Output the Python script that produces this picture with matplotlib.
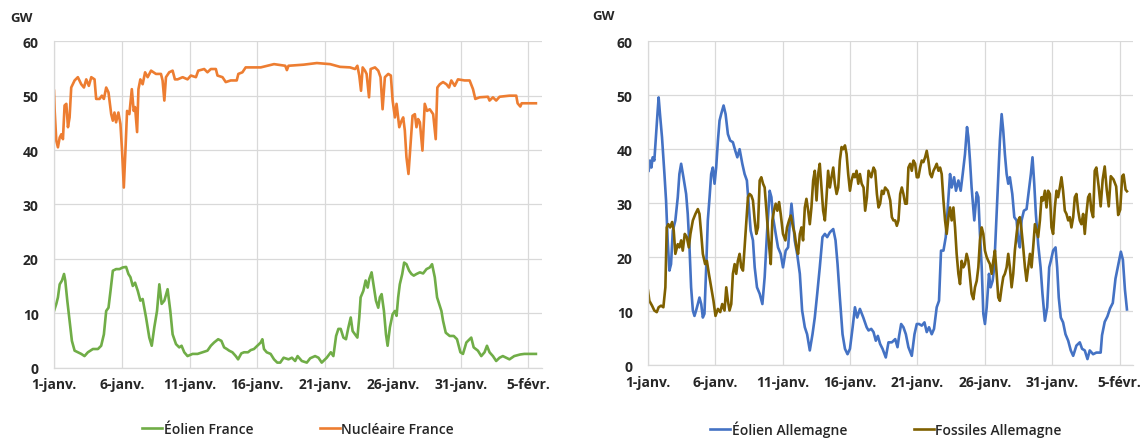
import matplotlib
matplotlib.use("Agg")
import matplotlib.pyplot as plt

# ---------------- data (days since 1 Jan, GW) ----------------
tick_days = [0, 5, 10, 15, 20, 25, 30, 35]
tick_labels = ["1-janv.", "6-janv.", "11-janv.", "16-janv.", "21-janv.", "26-janv.", "31-janv.", "5-févr."]
y_ticks = [0, 10, 20, 30, 40, 50, 60]

nuc_fr_t = [0.00, 0.05, 0.17, 0.29, 0.42, 0.54, 0.66, 0.78, 0.91, 1.03, 1.15, 1.27, 1.52, 1.76, 2.01, 2.21,
            2.38, 2.57, 2.75, 2.99, 3.11, 3.36, 3.53, 3.68, 3.85, 4.02, 4.22, 4.34, 4.46, 4.58, 4.75, 4.90,
            5.02, 5.15, 5.27, 5.39, 5.56, 5.74, 5.88, 5.98, 6.13, 6.23, 6.37, 6.54, 6.72, 6.91, 7.16, 7.52,
            7.89, 8.01, 8.14, 8.26, 8.50, 8.75, 8.92, 9.12, 9.49, 9.85, 10.10, 10.47, 10.64, 11.08, 11.32,
            11.57, 11.94, 12.06, 12.43, 12.67, 13.04, 13.48, 13.60, 13.90, 14.14, 14.51, 15.25, 15.74, 16.23,
            17.06, 17.18, 17.30, 18.41, 19.39, 20.37, 21.10, 21.84, 22.21, 22.38, 22.52, 22.65, 22.77, 22.94,
            23.06, 23.24, 23.36, 23.68, 23.92, 24.09, 24.24, 24.41, 24.66, 24.85, 24.98, 25.15, 25.27, 25.47,
            25.64, 25.76, 25.88, 26.00, 26.15, 26.30, 26.45, 26.62, 26.74, 26.86, 26.99, 27.18, 27.35, 27.52,
            27.72, 27.97, 28.16, 28.28, 28.46, 28.70, 28.95, 29.14, 29.31, 29.56, 29.80, 30.29, 30.66, 30.91,
            31.08, 31.40, 32.01, 32.13, 32.38, 32.62, 32.87, 33.60, 34.10, 34.20, 34.40, 34.50, 35.55]
nuc_fr = [50.9, 47.2, 41.7, 40.5, 42.3, 42.9, 42.0, 48.2, 48.5, 44.2, 46.0, 51.5, 52.8, 53.4, 52.1, 51.5,
          53.0, 51.8, 53.4, 53.0, 49.4, 49.4, 50.0, 49.4, 51.5, 50.6, 46.6, 45.4, 46.9, 45.1, 46.9, 44.8,
          39.9, 33.1, 39.9, 47.2, 46.6, 51.2, 47.2, 47.9, 43.3, 51.2, 53.0, 52.1, 54.3, 53.4, 54.6, 54.0,
          54.0, 52.8, 49.1, 53.4, 54.3, 54.6, 53.0, 53.0, 53.4, 53.0, 53.7, 53.4, 54.6, 54.9, 54.3,
          54.9, 54.9, 53.7, 53.4, 52.5, 52.8, 52.8, 54.0, 54.3, 55.2, 55.2, 55.2, 55.5, 55.8,
          55.5, 54.7, 55.5, 55.7, 56.0, 55.8, 55.3, 55.2, 54.9, 55.5, 53.7, 50.9, 55.2, 54.6,
          54.0, 49.7, 54.9, 55.2, 54.6, 53.4, 47.5, 53.4, 54.0, 53.7, 49.1, 46.0, 48.5, 44.2,
          45.4, 46.0, 43.6, 38.7, 35.6, 41.1, 46.3, 46.6, 44.2, 45.7, 45.1, 39.9, 48.5, 47.2,
          47.5, 46.6, 42.0, 51.5, 52.1, 52.5, 52.1, 51.5, 52.8, 51.8, 53.0, 52.8, 52.8, 51.2,
          49.4, 49.7, 49.8, 49.1, 49.7, 49.1, 49.8, 50.0, 50.0, 48.6, 48.0, 48.6, 48.6]

wind_fr_t = [0.00, 0.17, 0.29, 0.42, 0.59, 0.74, 0.83, 0.98, 1.15, 1.32, 1.52, 1.76, 2.01, 2.25, 2.50, 2.87,
             3.24, 3.48, 3.68, 3.85, 4.02, 4.17, 4.34, 4.58, 4.83, 5.07, 5.32, 5.49, 5.64, 5.81, 5.98, 6.18,
             6.37, 6.54, 6.79, 7.03, 7.21, 7.40, 7.60, 7.77, 7.94, 8.14, 8.38, 8.58, 8.75, 9.00, 9.24, 9.41,
             9.61, 9.85, 10.22, 10.59, 10.96, 11.32, 11.57, 11.81, 12.11, 12.35, 12.55, 12.75, 12.92, 13.16,
             13.41, 13.58, 13.82, 14.02, 14.31, 14.51, 14.75, 15.00, 15.25, 15.37, 15.49, 15.69, 15.98, 16.23,
             16.47, 16.69, 16.94, 17.30, 17.55, 17.79, 17.97, 18.28, 18.65, 18.90, 19.26, 19.51, 19.75, 20.12,
             20.42, 20.61, 20.81, 20.98, 21.15, 21.35, 21.54, 21.72, 21.89, 22.03, 22.21, 22.38, 22.52, 22.62,
             22.82, 22.99, 23.14, 23.26, 23.43, 23.60, 23.75, 23.92, 24.04, 24.17, 24.34, 24.49, 24.61, 24.78,
             24.98, 25.15, 25.27, 25.39, 25.51, 25.69, 25.83, 26.00, 26.20, 26.37, 26.54, 26.74, 26.99, 27.23,
             27.48, 27.72, 27.89, 28.09, 28.26, 28.41, 28.58, 28.70, 28.90, 29.19, 29.49, 29.73, 29.98, 30.17,
             30.42, 30.66, 30.78, 30.96, 31.27, 31.52, 31.76, 31.94, 32.13, 32.38, 32.62, 32.87, 33.11, 33.60,
             33.95, 34.40, 34.70, 35.55]
wind_fr = [10.4, 11.7, 12.9, 15.3, 16.0, 17.2, 16.0, 12.3, 8.6, 4.9, 3.1, 2.8, 2.5, 2.1, 2.8, 3.4,
           3.4, 4.0, 6.1, 10.4, 11.0, 14.1, 17.8, 18.1, 18.1, 18.4, 18.5, 17.2, 16.6, 15.0, 15.6, 14.1,
           12.3, 12.6, 9.2, 5.5, 4.0, 7.4, 10.4, 15.3, 11.7, 12.3, 14.4, 10.4, 6.1, 4.3, 3.7, 4.0,
           2.8, 2.1, 2.5, 2.5, 2.8, 3.1, 4.0, 4.6, 5.2, 4.9, 3.7, 3.4, 3.1, 2.8,
           2.1, 1.5, 2.6, 2.8, 2.8, 3.2, 3.4, 4.0, 4.6, 5.2, 3.4, 2.8, 2.5, 1.5,
           0.9, 0.9, 1.8, 1.5, 1.8, 1.2, 2.1, 1.2, 0.9, 1.7, 2.1, 1.8, 0.9, 1.8,
           2.8, 2.1, 5.8, 7.1, 7.1, 5.5, 5.2, 7.4, 9.2, 6.7, 6.1, 5.5, 9.2, 12.9,
           14.1, 16.0, 14.7, 16.3, 17.5, 14.7, 12.3, 11.0, 12.9, 13.5, 10.4, 6.1, 4.0, 7.4,
           9.8, 10.4, 9.5, 12.9, 15.3, 17.2, 19.3, 19.0, 17.8, 17.2, 16.9, 17.2, 17.5, 17.3,
           18.1, 18.4, 19.0, 16.6, 12.9, 11.7, 10.4, 8.6, 6.4, 5.8, 5.8, 5.2, 2.8, 2.5,
           4.6, 5.2, 5.5, 3.7, 3.1, 2.1, 2.8, 4.0, 2.8, 2.1, 1.2, 1.8, 2.1, 1.5,
           2.1, 2.4, 2.5, 2.5]

wind_de_t = [0.05, 0.15, 0.25, 0.35, 0.47, 0.60, 0.72, 0.79, 0.89, 1.04, 1.22, 1.34, 1.46, 1.59, 1.71, 1.84,
             2.03, 2.21, 2.33, 2.46, 2.63, 2.83, 2.95, 3.08, 3.20, 3.33, 3.45, 3.57, 3.70, 3.82, 3.95, 4.07,
             4.19, 4.32, 4.44, 4.57, 4.69, 4.81, 4.94, 5.06, 5.19, 5.31, 5.43, 5.61, 5.76, 5.93, 6.10, 6.30,
             6.48, 6.63, 6.80, 7.00, 7.17, 7.34, 7.49, 7.62, 7.79, 7.92, 8.09, 8.29, 8.49, 8.66, 8.83, 9.03,
             9.16, 9.28, 9.48, 9.65, 9.85, 10.02, 10.22, 10.40, 10.52, 10.65, 10.77, 10.89, 11.07, 11.27,
             11.44, 11.64, 11.81, 12.01, 12.21, 12.38, 12.56, 12.75, 12.95, 13.13, 13.30, 13.50, 13.75, 13.92,
             14.07, 14.24, 14.44, 14.62, 14.81, 14.99, 15.19, 15.36, 15.53, 15.73, 15.98, 16.23, 16.37, 16.57,
             16.74, 16.91, 17.06, 17.23, 17.41, 17.65, 17.85, 18.10, 18.35, 18.52, 18.64, 18.79, 18.96, 19.14,
             19.33, 19.58, 19.78, 19.95, 20.12, 20.32, 20.52, 20.69, 20.86, 21.06, 21.23, 21.43, 21.60, 21.75,
             21.93, 22.10, 22.25, 22.42, 22.54, 22.72, 22.86, 23.04, 23.21, 23.36, 23.53, 23.68, 23.78, 23.90,
             24.02, 24.22, 24.40, 24.52, 24.64, 24.77, 24.89, 25.01, 25.14, 25.31, 25.43, 25.58, 25.70, 25.83,
             26.00, 26.12, 26.25, 26.37, 26.49, 26.62, 26.74, 26.86, 27.04, 27.19, 27.36, 27.48, 27.60, 27.73,
             27.90, 28.10, 28.27, 28.42, 28.54, 28.67, 28.79, 28.96, 29.14, 29.28, 29.46, 29.63, 29.78, 29.90,
             30.07, 30.25, 30.37, 30.49, 30.64, 30.81, 30.99, 31.19, 31.38, 31.56, 31.80, 32.05, 32.22, 32.42,
             32.62, 32.79, 33.04, 33.28, 33.60, 33.70, 33.90, 34.10, 34.30, 34.50, 34.70, 34.90, 35.10, 35.25,
             35.40, 35.55]
wind_de = [36.0, 37.9, 36.6, 38.5, 37.9, 42.8, 47.2, 49.6, 46.5, 42.2, 35.4, 30.5, 23.1, 17.5, 18.7, 24.9,
           26.8, 31.1, 35.4, 37.3, 34.8, 31.7, 28.0, 21.8, 14.4, 10.1, 9.1, 10.1, 11.3, 12.5, 11.3, 8.8,
           9.5, 18.1, 26.8, 31.1, 35.4, 36.6, 33.6, 36.6, 41.6, 45.3, 46.5, 48.1, 46.5, 42.8, 41.6, 41.3,
           39.7, 38.5, 40.0, 37.3, 35.4, 34.2, 29.2, 24.9, 23.1, 18.1, 14.4, 13.2, 11.3, 16.3, 24.3, 32.3,
           31.1, 27.4, 24.3, 21.8, 20.6, 18.1, 21.2, 21.8, 26.1, 29.9, 26.8, 23.1, 20.6, 16.9,
           10.1, 7.0, 5.7, 2.7, 5.7, 8.8, 13.2, 18.1, 23.7, 24.3, 23.7, 24.6, 25.2, 23.1,
           18.7, 12.5, 5.7, 3.0, 2.0, 3.0, 7.0, 10.7, 8.8, 10.4, 8.8, 7.0, 6.4, 6.7,
           6.1, 4.5, 5.4, 3.9, 3.0, 1.4, 4.2, 4.2, 4.8, 3.3, 5.4, 7.6, 7.0, 5.7,
           3.3, 1.7, 5.7, 7.6, 7.6, 7.3, 7.9, 6.1, 7.0, 5.7, 6.7, 10.7, 11.9, 21.2,
           21.2, 23.7, 29.2, 35.4, 32.9, 34.8, 32.3, 34.2, 32.3, 35.4, 39.1, 44.1, 42.2, 37.9,
           32.9, 26.8, 32.0, 31.1, 24.3, 18.1, 9.5, 7.6, 10.7, 16.9, 14.4, 15.6, 18.1, 25.5,
           35.4, 41.6, 46.5, 43.4, 39.1, 35.4, 33.6, 34.8, 31.7, 27.4, 26.8, 23.1, 21.8, 26.8,
           28.6, 28.9, 32.3, 35.4, 38.5, 33.6, 28.0, 22.4, 18.1, 13.2, 8.2, 10.7, 18.1, 19.3,
           21.2, 21.8, 18.1, 12.5, 8.8, 7.9, 5.7, 4.5, 2.7, 1.7, 3.6, 4.2, 3.0, 2.7,
           1.1, 2.7, 2.0, 2.3, 2.3, 5.5, 8.0, 9.0, 10.5, 11.5, 16.0, 18.5, 21.0, 19.5,
           14.0, 10.3]

fos_de_t = [0.00, 0.10, 0.30, 0.47, 0.65, 0.79, 0.97, 1.14, 1.29, 1.39, 1.51, 1.64, 1.79, 1.91, 2.03, 2.21,
            2.33, 2.46, 2.58, 2.73, 2.88, 3.03, 3.15, 3.33, 3.52, 3.70, 3.82, 3.95, 4.07, 4.24, 4.37, 4.52,
            4.69, 4.86, 5.01, 5.19, 5.36, 5.51, 5.68, 5.81, 5.93, 6.05, 6.18, 6.30, 6.43, 6.55, 6.67, 6.80,
            6.92, 7.05, 7.17, 7.30, 7.42, 7.54, 7.67, 7.79, 7.92, 8.04, 8.16, 8.29, 8.41, 8.54, 8.66, 8.83,
            8.98, 9.11, 9.23, 9.35, 9.48, 9.60, 9.73, 9.85, 10.02, 10.20, 10.32, 10.47, 10.60, 10.77, 10.89,
            11.02, 11.14, 11.27, 11.39, 11.51, 11.64, 11.76, 11.89, 12.01, 12.13, 12.26, 12.38, 12.51, 12.63,
            12.75, 12.88, 13.00, 13.13, 13.25, 13.37, 13.50, 13.62, 13.75, 13.87, 14.00, 14.12, 14.24, 14.37,
            14.49, 14.62, 14.74, 14.86, 14.99, 15.11, 15.24, 15.36, 15.48, 15.61, 15.73, 15.86,
            16.00, 16.12, 16.25, 16.37, 16.57, 16.74, 16.86, 16.99, 17.11, 17.23, 17.36, 17.48, 17.60, 17.80,
            17.98, 18.10, 18.22, 18.35, 18.47, 18.59, 18.72, 18.84, 18.96, 19.09, 19.21, 19.33, 19.46, 19.58,
            19.70, 19.83, 19.95, 20.07, 20.20, 20.32, 20.44, 20.57, 20.69, 20.81, 20.94, 21.06, 21.19, 21.31,
            21.43, 21.56, 21.68, 21.80, 21.93, 22.05, 22.17, 22.30, 22.42, 22.54, 22.67, 22.79, 22.91, 23.04,
            23.16, 23.28, 23.41, 23.53, 23.65, 23.78, 23.90, 24.02, 24.15, 24.27, 24.40, 24.52, 24.64, 24.77,
            24.89, 25.01, 25.14, 25.26, 25.38, 25.51, 25.63, 25.75, 25.88, 26.00, 26.12, 26.25, 26.37, 26.49,
            26.62, 26.74, 26.86, 26.99, 27.11, 27.23, 27.36, 27.48, 27.60, 27.73, 27.85, 27.98, 28.10, 28.22,
            28.35, 28.47, 28.59, 28.72, 28.84, 28.96, 29.09, 29.21, 29.33, 29.46, 29.58, 29.70, 29.83, 29.95,
            30.07, 30.20, 30.32, 30.44, 30.57, 30.69, 30.81, 30.94, 31.06, 31.19, 31.31, 31.43, 31.56, 31.68,
            31.80, 31.93, 32.05, 32.17, 32.30, 32.42, 32.54, 32.67, 32.79, 32.91, 33.04, 33.16, 33.28, 33.45,
            33.60, 33.75, 33.90, 34.05, 34.20, 34.35, 34.55, 34.75, 34.90, 35.05, 35.20, 35.30, 35.45, 35.55]
fos_de = [13.8, 11.9, 11.0, 10.1, 9.8, 10.7, 11.0, 10.7, 14.4, 25.5, 26.1, 25.5, 26.5, 24.9, 20.6, 22.4,
          21.8, 23.1, 21.2, 24.3, 23.7, 21.8, 24.3, 26.8, 28.0, 28.9, 28.0, 24.3, 20.6, 18.7, 19.3, 16.9,
          14.4, 11.9, 9.1, 10.4, 9.8, 11.3, 10.1, 14.4, 11.9, 10.1, 11.3, 16.9, 18.7, 16.9, 19.3, 20.6,
          18.1, 17.5, 21.8, 26.8, 31.1, 31.7, 31.4, 30.5, 26.8, 24.3, 25.5, 34.2, 34.8, 33.6, 32.9, 27.4,
          22.4, 18.7, 26.8, 28.6, 29.9, 28.6, 30.2, 28.0, 24.3, 23.1, 25.5, 26.8, 27.7, 25.5, 24.3,
          21.8, 20.6, 24.3, 25.5, 23.1, 29.2, 30.8, 28.6, 26.1, 29.2, 34.2, 36.0, 30.5, 35.4,
          37.3, 32.9, 28.6, 26.8, 31.1, 36.0, 32.9, 34.8, 36.6, 33.6, 31.7, 32.9, 37.9, 40.4,
          40.0, 40.7, 39.1, 35.4, 32.3, 34.2, 35.4, 34.8, 36.0, 33.6, 35.4, 33.6,
          32.9, 28.6, 31.1, 36.0, 34.8, 36.6, 36.0, 31.7, 29.2, 29.9, 32.3, 31.7, 32.9, 32.3,
          30.5, 27.4, 26.8, 26.8, 25.8, 26.8, 31.7, 32.9, 31.7, 29.9, 29.9, 36.6, 37.3, 36.0,
          37.9, 37.3, 34.8, 34.8, 36.6, 37.9, 37.6, 38.5, 39.7, 37.9, 35.4, 34.8, 36.0, 36.6,
          37.3, 36.0, 36.6, 35.4, 30.5, 26.8, 24.3, 27.4, 29.2, 26.8, 29.2, 25.5, 20.6, 16.9,
          15.0, 19.3, 18.1, 18.7, 20.6, 19.3, 16.3, 13.2, 12.2, 14.4, 15.6, 18.1, 23.1, 25.5,
          24.3, 21.2, 20.0, 19.3, 18.7, 16.9, 19.3, 21.2, 16.9, 12.5, 11.9, 14.4, 16.3, 16.9,
          18.1, 20.6, 18.1, 14.4, 16.9, 21.2, 24.3, 26.8, 27.4, 24.9, 21.8, 18.1, 15.6, 18.1,
          20.6, 18.1, 21.8, 26.1, 24.9, 23.7, 26.8, 31.1, 30.5, 32.3, 29.2, 32.3, 31.7, 25.5,
          24.3, 29.2, 32.3, 31.1, 32.9, 34.8, 32.3, 28.6, 28.0, 26.8, 27.4, 25.5, 27.4, 31.1,
          31.7, 28.6, 26.8, 26.1, 28.0, 24.3, 28.0, 31.1, 31.7, 28.6, 27.4, 36.0, 36.6, 33.1,
          29.4, 34.4, 36.8, 32.5, 29.4, 35.0, 34.4, 33.1, 27.8, 28.8, 35.0, 35.3, 32.5, 32.2]

series_left = [("Éolien France", wind_fr_t, wind_fr, "#70AD47"),
               ("Nucléaire France", nuc_fr_t, nuc_fr, "#ED7D31")]
series_right = [("Éolien Allemagne", wind_de_t, wind_de, "#4472C4"),
                ("Fossiles Allemagne", fos_de_t, fos_de, "#7F6000")]

# ---------------- figure ----------------
plt.rcParams['font.family'] = ['Open Sans', 'DejaVu Sans']
W, H = 1141, 439
fig = plt.figure(figsize=(W / 100, H / 100), dpi=100)
text_color = "#262626"
grid_color = "#D9D9D9"

panels = [
    (series_left, (54, 542, 42.3, 368.5), (10, 19), (298, 430)),
    (series_right, (648, 1133, 42.3, 366), (592, 17), (886, 430)),
]

for series, (x0, x1, ytop, ybot), gw_pos, leg_pos in panels:
    ax = fig.add_axes([x0 / W, 1 - ybot / H, (x1 - x0) / W, (ybot - ytop) / H])
    for name, t, v, c in series:
        ax.plot(t, v, color=c, lw=1.9, label=name, solid_joinstyle='round')
    ax.set_xlim(0, 36)
    ax.set_ylim(0, 60)
    ax.set_xticks(tick_days)
    ax.set_xticklabels(tick_labels)
    ax.set_yticks(y_ticks)
    ax.grid(True, color=grid_color, lw=0.9)
    ax.set_axisbelow(True)
    for s in ("top", "right"):
        ax.spines[s].set_visible(False)
    for s in ("left", "bottom"):
        ax.spines[s].set_color(grid_color)
        ax.spines[s].set_linewidth(0.9)
    ax.tick_params(length=0, labelsize=10, labelcolor=text_color)
    ax.tick_params(axis='y', pad=11)
    ax.tick_params(axis='x', pad=7)
    for lab in ax.get_xticklabels() + ax.get_yticklabels():
        lab.set_fontweight('bold')
    fig.text(gw_pos[0] / W, 1 - gw_pos[1] / H, "GW", fontsize=9.5, fontweight='bold',
             color=text_color, ha='left', va='center')
    ax.legend(loc='center', bbox_to_anchor=(leg_pos[0] / W, 1 - leg_pos[1] / H),
              bbox_transform=fig.transFigure, ncol=2, frameon=False, borderpad=0,
              handlelength=1.45, handletextpad=0.1, columnspacing=4.8,
              prop={'size': 10, 'weight': 'semibold'}, labelcolor=text_color)

fig.savefig("out.png", dpi=100)
